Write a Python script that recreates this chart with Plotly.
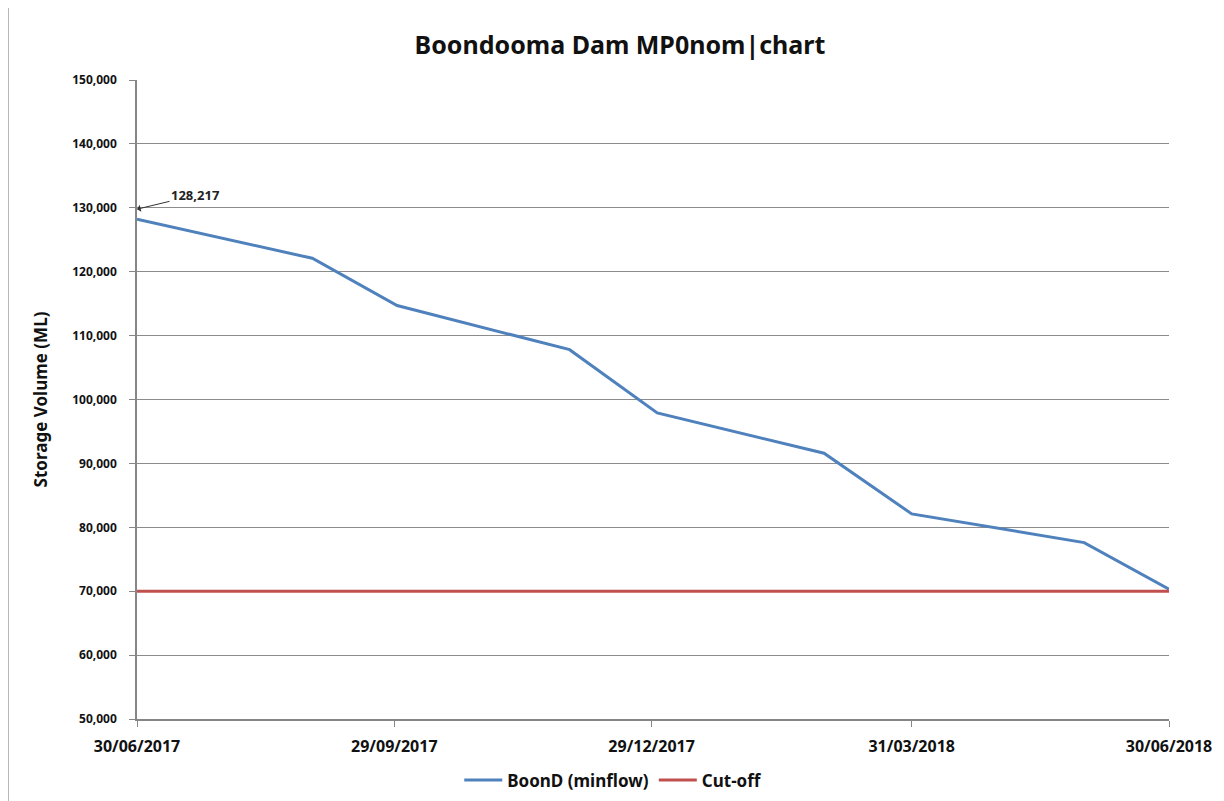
import plotly.graph_objects as go

# month-end readings, storage in ML
dates = ["2017-06-30", "2017-08-31", "2017-09-30", "2017-11-30", "2017-12-31",
         "2018-02-28", "2018-03-31", "2018-05-31", "2018-06-30"]
boond = [128217, 122100, 114700, 107800, 97900, 91600, 82100, 77600, 70300]
cutoff = [70000, 70000, 70000, 70000, 70000, 70000, 70000, 70000, 70000]

tick_dates = ["2017-06-30", "2017-09-29", "2017-12-29", "2018-03-31", "2018-06-30"]
tick_text = ["30/06/2017", "29/09/2017", "29/12/2017", "31/03/2018", "30/06/2018"]

FONT = "Noto Sans"

fig = go.Figure()
fig.add_trace(go.Scatter(x=dates, y=boond, name="BoonD (minflow)", mode="lines",
                         line=dict(color="#4F81BD", width=3)))
fig.add_trace(go.Scatter(x=dates, y=cutoff, name="Cut-off", mode="lines",
                         line=dict(color="#C0504D", width=3)))

fig.add_annotation(x=dates[0], y=boond[0], yshift=10, text="128,217",
                   showarrow=True, arrowhead=1, arrowsize=1.2, arrowwidth=1,
                   arrowcolor="#333", ax=58, ay=-14,
                   font=dict(family=FONT, size=13, color="#222", weight="bold"))

# grey edge line on the left of the screenshot
fig.add_shape(type="line", xref="paper", yref="paper", x0=-0.125, x1=-0.125,
              y0=-0.14, y1=1.13, line=dict(color="#A0A0A0", width=1.5))

# page body has an 8px margin, so the margins below are offset by it
fig.update_layout(
    width=1224, height=801,
    margin=dict(l=129, r=63, t=72, b=90, autoexpand=False),
    paper_bgcolor="white", plot_bgcolor="white",
    title=dict(text="Boondooma Dam MP0nom|chart", x=0.5, xanchor="center",
               y=0.954, yanchor="middle", automargin=False,
               font=dict(family=FONT, size=25, color="#111", weight="bold")),
    font=dict(family=FONT, color="#111"),
    showlegend=True,
    legend=dict(orientation="h", x=0.461, xanchor="center", y=-0.096, yanchor="middle",
                font=dict(family=FONT, size=17, color="#111", weight="bold"),
                itemwidth=38, tracegroupgap=0),
)

fig.update_xaxes(
    type="date", range=["2017-06-30", "2018-06-30"], automargin=False,
    tickvals=tick_dates, ticktext=tick_text,
    tickfont=dict(family=FONT, size=16, color="#111", weight="bold"),
    showgrid=False, showline=True, linecolor="#868686", linewidth=1.5,
    ticks="outside", ticklen=6, tickcolor="#868686", ticklabelstandoff=6,
    zeroline=False,
)
fig.update_yaxes(
    range=[50000, 150000], dtick=10000, tickformat=",", automargin=False,
    tickfont=dict(family=FONT, size=12, color="#111", weight="bold"),
    showgrid=True, gridcolor="#8C8C8C", gridwidth=1,
    showline=True, linecolor="#868686", linewidth=1.5,
    ticks="outside", ticklen=6, tickcolor="#868686", ticklabelstandoff=10,
    title=dict(text="Storage Volume (ML)", standoff=20,
               font=dict(family=FONT, size=17, color="#111", weight="bold")),
    zeroline=False,
)

fig.write_html("out.html")
